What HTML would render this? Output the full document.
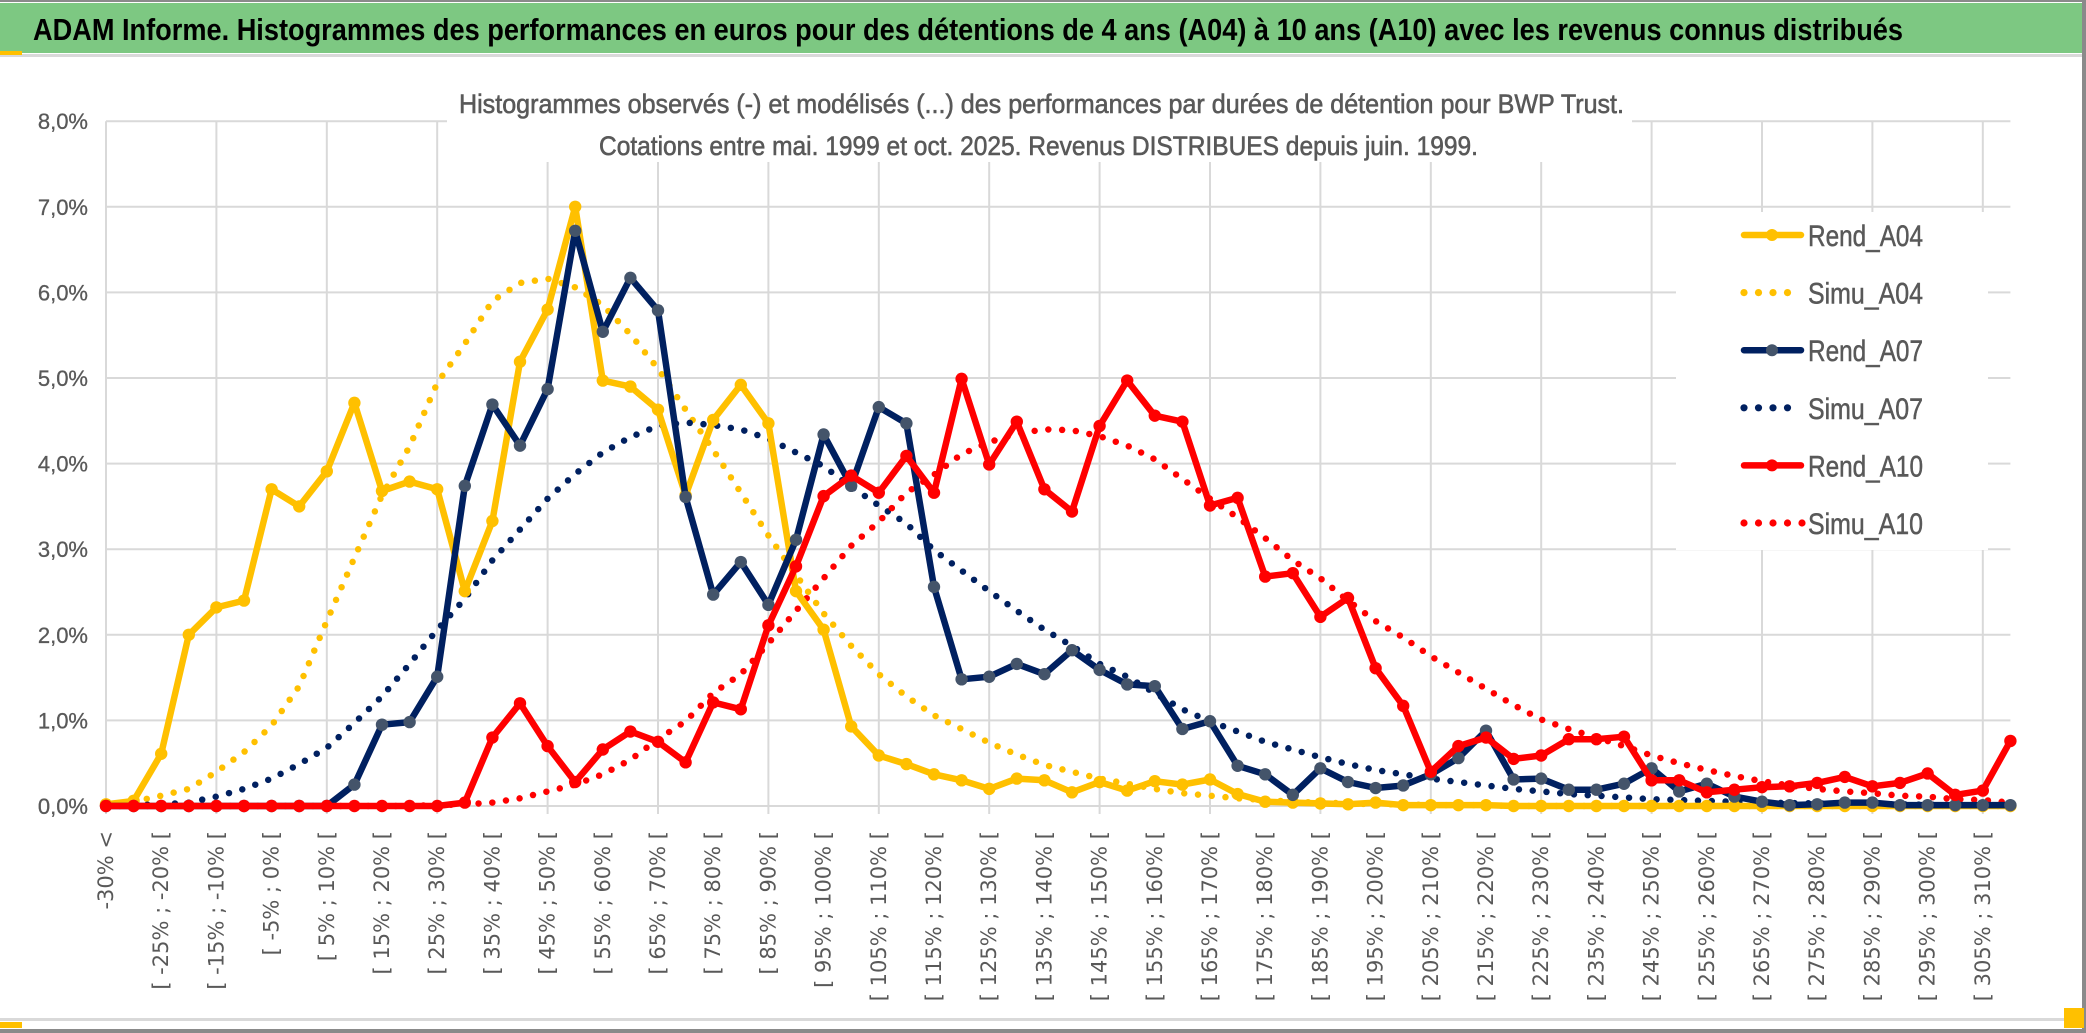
<!DOCTYPE html>
<html><head><meta charset="utf-8"><style>
html,body{margin:0;padding:0;background:#fff;width:2086px;height:1033px;overflow:hidden}
svg{display:block}
</style></head><body>
<svg id="chart" width="2086" height="1033" viewBox="0 0 2086 1033" xmlns="http://www.w3.org/2000/svg">
<rect x="0" y="0" width="2086" height="1033" fill="#fff"/>
<rect x="0" y="0" width="2086" height="2" fill="#8a8a8a"/>
<rect x="0" y="3" width="2083" height="50" fill="#7DC882"/>
<rect x="0" y="54" width="2083" height="3" fill="#d9d9d9"/>
<rect x="0" y="51" width="22" height="4" fill="#FFC000"/>
<rect x="2082" y="0" width="4" height="1033" fill="#8a8a8a"/>
<rect x="0" y="1018" width="2082" height="3" fill="#d9d9d9"/>
<rect x="0" y="1029" width="2086" height="4" fill="#8a8a8a"/>
<rect x="0" y="1022" width="22" height="6" fill="#FFC000"/>
<rect x="2064" y="1008" width="20" height="20" fill="#FFC000"/>
<text x="33" y="40" font-family="'Liberation Sans Narrow','Liberation Sans',sans-serif" font-weight="bold" font-size="31" fill="#000" textLength="1870" lengthAdjust="spacingAndGlyphs">ADAM Informe. Histogrammes des performances en euros pour des détentions de 4 ans (A04) à 10 ans (A10) avec les revenus connus distribués</text>
<g id="grid"></g>
<g id="subtitle-box">
<rect x="447" y="78" width="1185" height="84" fill="#fff"/>
<text x="459" y="113" font-family="'Liberation Sans Narrow','Liberation Sans',sans-serif" font-size="27" fill="#595959" stroke="#595959" stroke-width="0.6" textLength="1165" lengthAdjust="spacingAndGlyphs">Histogrammes observés (-) et modélisés (...) des performances par durées de détention pour BWP Trust.</text>
<text x="599" y="155" font-family="'Liberation Sans Narrow','Liberation Sans',sans-serif" font-size="27" fill="#595959" stroke="#595959" stroke-width="0.6" textLength="879" lengthAdjust="spacingAndGlyphs">Cotations entre mai. 1999 et oct. 2025. Revenus DISTRIBUES depuis juin. 1999.</text>
</g>
<g id="yaxis"></g>
<g id="xaxis"></g>
<g id="series"></g>
<g id="legend"></g>
</svg>
<script>
const categories = ["-30% <"];
for (let a = -30; a < 315; a += 5) categories.push("[ " + a + "% ; " + (a + 5) + "% [");
const yTicks = [0,1,2,3,4,5,6,7,8];
const yTickLabels = ["0,0%","1,0%","2,0%","3,0%","4,0%","5,0%","6,0%","7,0%","8,0%"];
const rendA04 = [0.02,0.06,0.61,2.0,2.32,2.40,3.70,3.50,3.91,4.71,3.68,3.79,3.70,2.51,3.33,5.19,5.80,7.0,4.97,4.90,4.63,3.63,4.51,4.92,4.47,2.51,2.06,0.93,0.59,0.49,0.37,0.30,0.20,0.32,0.30,0.16,0.28,0.18,0.29,0.25,0.31,0.14,0.05,0.04,0.03,0.02,0.04,0.01,0.01,0.01,0.01,0.0,0.0,0.0,0.0,0.0,0.0,0.0,0.0,0.0,0.0,0.0,0.0,0.0,0.0,0.0,0.0,0.0,0.0,0.0];
const simuA04 = [0.0,0.05,0.12,0.2,0.4,0.63,0.94,1.4,2.16,2.9,3.63,4.2,4.94,5.4,5.9,6.11,6.16,6.06,5.85,5.51,5.11,4.63,4.16,3.66,3.16,2.7,2.25,1.87,1.54,1.28,1.06,0.9,0.74,0.6,0.48,0.40,0.32,0.26,0.2,0.15,0.12,0.09,0.07,0.05,0.04,0.03,0.02,0.02,0.01,0.01,0.01,0.0,0.0,0.0,0.0,0.0,0.0,0.0,0.0,0.0,0.0,0.0,0.0,0.0,0.0,0.0,0.0,0.0,0.0,0.0];
const rendA07 = [0,0,0,0,0,0,0,0,0,0.25,0.95,0.98,1.51,3.74,4.69,4.21,4.87,6.72,5.54,6.17,5.79,3.61,2.47,2.85,2.35,3.11,4.34,3.74,4.66,4.47,2.56,1.48,1.51,1.66,1.54,1.82,1.59,1.42,1.40,0.90,0.99,0.47,0.37,0.13,0.44,0.28,0.21,0.24,0.37,0.56,0.88,0.31,0.32,0.19,0.19,0.26,0.44,0.17,0.26,0.11,0.05,0.01,0.02,0.04,0.04,0.01,0.01,0.01,0.01,0.01];
const simuA07 = [0,0.01,0.02,0.04,0.11,0.2,0.32,0.49,0.68,0.97,1.28,1.66,2.06,2.42,2.87,3.23,3.59,3.88,4.13,4.31,4.44,4.48,4.45,4.40,4.29,4.13,3.97,3.73,3.51,3.3,2.99,2.75,2.51,2.28,2.06,1.87,1.66,1.51,1.32,1.13,0.99,0.87,0.75,0.66,0.57,0.49,0.42,0.37,0.32,0.28,0.24,0.2,0.17,0.14,0.12,0.1,0.08,0.07,0.06,0.05,0.04,0.035,0.03,0.025,0.02,0.02,0.015,0.01,0.01,0.01];
const rendA10 = [0,0,0,0,0,0,0,0,0,0,0,0,0,0.04,0.80,1.20,0.70,0.28,0.66,0.87,0.75,0.51,1.21,1.13,2.11,2.80,3.62,3.86,3.66,4.09,3.66,4.99,3.99,4.49,3.70,3.44,4.44,4.97,4.56,4.49,3.51,3.60,2.68,2.72,2.21,2.43,1.61,1.17,0.40,0.70,0.80,0.55,0.59,0.78,0.78,0.81,0.30,0.30,0.16,0.19,0.22,0.23,0.27,0.34,0.23,0.27,0.38,0.13,0.18,0.76];
const simuA10 = [0,0,0,0,0,0,0,0,0,0,0,0,0.01,0.02,0.04,0.09,0.17,0.25,0.37,0.54,0.78,0.99,1.32,1.54,1.9,2.28,2.66,3.04,3.32,3.66,3.87,4.11,4.25,4.35,4.40,4.39,4.32,4.21,4.05,3.82,3.59,3.37,3.13,2.87,2.66,2.40,2.16,1.97,1.75,1.56,1.37,1.18,1.01,0.9,0.8,0.7,0.59,0.5,0.42,0.35,0.29,0.24,0.2,0.17,0.15,0.12,0.11,0.08,0.07,0.04];
const seriesNames = ["Rend_A04","Simu_A04","Rend_A07","Simu_A07","Rend_A10","Simu_A10"];

const NS = "http://www.w3.org/2000/svg";
const X0 = 106, DX = 27.6, Y0 = 806, DY = 85.6;
function xs(i){ return X0 + i*DX; }
function ys(v){ return Y0 - v*DY; }
function mk(tag, attrs, parent){ const e = document.createElementNS(NS, tag); for (const k in attrs) e.setAttribute(k, attrs[k]); parent.appendChild(e); return e; }

const grid = document.getElementById('grid');
const xLast = xs(categories.length - 1);
yTicks.forEach(function(t){
  const l = mk('line', {x1: xs(0), x2: xLast, y1: ys(t), y2: ys(t), stroke: '#D9D9D9', 'stroke-width': 2}, grid);
  
  
});
for (let i = 0; i < categories.length; i += 4) {
  const l = mk('line', {x1: xs(i), x2: xs(i), y1: ys(8), y2: Y0 + 8, stroke: '#D9D9D9', 'stroke-width': 2}, grid);
  
  
}

const yaxis = document.getElementById('yaxis');
yTicks.forEach(function(t, k){
  const tx = mk('text', {x: 88, y: ys(t) + 8, 'text-anchor': 'end', 'font-family': "'Liberation Sans Narrow','Liberation Sans',sans-serif", 'font-size': 22, fill: '#595959', stroke: '#595959', 'stroke-width': 0.3}, yaxis);
  tx.textContent = yTickLabels[k];
  
  
});

const xaxis = document.getElementById('xaxis');
for (let i = 0; i < categories.length; i += 2) {
  const cx = xs(i) + 7, cy = 831;
  const tx = mk('text', {x: cx, y: cy, 'text-anchor': 'end', transform: 'rotate(-90 ' + cx + ' ' + cy + ')', 'font-family': "'DejaVu Sans',sans-serif", 'font-size': 21, fill: '#595959'}, xaxis);
  tx.textContent = categories[i];
  
  
}

const series = document.getElementById('series');
function pts(arr){ return arr.map(function(v, i){ return xs(i).toFixed(1) + ',' + ys(v).toFixed(1); }).join(' '); }
function dotted(arr, color, name){
  const p = mk('polyline', {points: pts(arr), fill: 'none', stroke: color, 'stroke-width': 6.5, 'stroke-linecap': 'round', 'stroke-linejoin': 'round', 'stroke-dasharray': '0 13.8'}, series);
  
  
}
function solid(arr, color, mcolor, name){
  const g = mk('g', {}, series);
  
  
  const p = mk('polyline', {points: pts(arr), fill: 'none', stroke: color, 'stroke-width': 6.5, 'stroke-linejoin': 'round', 'stroke-linecap': 'round'}, g);
  
  
  arr.forEach(function(v, i){
    const c = mk('circle', {cx: xs(i), cy: ys(v), r: 6.2, fill: mcolor}, g);
    
    
  });
}
dotted(simuA04, '#FFC000', 'simu-a04-line');
dotted(simuA07, '#002060', 'simu-a07-line');
dotted(simuA10, '#FF0000', 'simu-a10-line');
solid(rendA04, '#FFC000', '#FFC000', 'rend-a04');
solid(rendA07, '#002060', '#44546A', 'rend-a07');
solid(rendA10, '#FF0000', '#FF0000', 'rend-a10');

const legend = document.getElementById('legend');
const bg = mk('rect', {x: 1676, y: 212, width: 312, height: 338, fill: '#fff'}, legend);


const lColors = ['#FFC000','#FFC000','#002060','#002060','#FF0000','#FF0000'];
const mColors = ['#FFC000',null,'#44546A',null,'#FF0000',null];
seriesNames.forEach(function(n, k){
  const yy = 235 + k*57.6;
  const g = mk('g', {}, legend);
  
  
  if (mColors[k]) {
    mk('line', {x1: 1744, x2: 1801, y1: yy, y2: yy, stroke: lColors[k], 'stroke-width': 6.5, 'stroke-linecap': 'round'}, g);
    mk('circle', {cx: 1772, cy: yy, r: 6, fill: mColors[k]}, g);
  } else {
    const n2 = (k === 5) ? 5 : 4;
    for (let d = 0; d < n2; d++) mk('circle', {cx: 1744 + d*14.5, cy: yy, r: 3.6, fill: lColors[k]}, g);
  }
  const t = mk('text', {x: 1808, y: yy + 11, 'font-family': "'Liberation Sans Narrow','Liberation Sans',sans-serif", 'font-size': 30, fill: '#595959', stroke: '#595959', 'stroke-width': 0.5, textLength: 115, lengthAdjust: 'spacingAndGlyphs'}, g);
  t.textContent = n;
});
</script>
</body></html>
